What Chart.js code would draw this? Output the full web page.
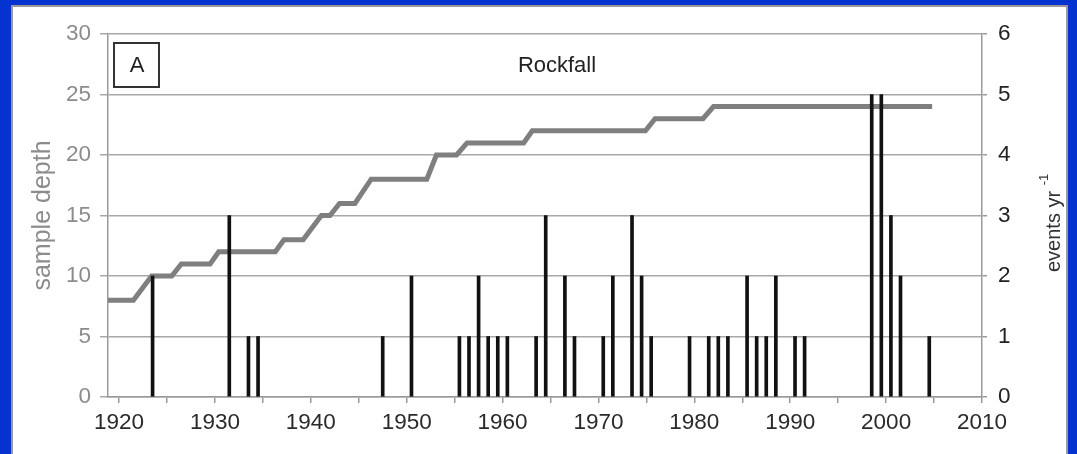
<!DOCTYPE html>
<html>
<head>
<meta charset="utf-8">
<script src="https://cdn.jsdelivr.net/npm/chart.js@4"></script>
<style>
  html, body { margin: 0; padding: 0; background: #0433d0; overflow: hidden; }
  #frame {
    position: absolute; left: 11px; top: 5px; width: 1053px; height: 470px;
    background: #fff; border: 2px solid #9a9a9a;
  }
  #Chart { position: absolute; left: 0; top: 0; }
</style>
</head>
<body>
<div id="frame"></div>
<canvas id="Chart" width="1077" height="454"></canvas>
<script>
// rockfall events per year
const eventYears = [1923, 1931, 1933, 1934, 1947, 1950, 1955, 1956, 1957, 1958, 1959, 1960,
  1963, 1964, 1966, 1967, 1970, 1971, 1973, 1974, 1975, 1979, 1981, 1982, 1983,
  1985, 1986, 1987, 1988, 1990, 1991, 1998, 1999, 2000, 2001, 2004];
const eventCounts = [2, 3, 1, 1, 1, 2, 1, 1, 2, 1, 1, 1,
  1, 3, 2, 1, 1, 2, 3, 2, 1, 1, 1, 1, 1,
  2, 1, 1, 2, 1, 1, 5, 5, 3, 2, 1];

// sample depth, corners of the grey step line
const depthYears = [1918.5, 1921.5, 1923.4, 1925.5, 1926.5, 1929.5, 1930.4, 1936.3, 1937.2,
  1939.2, 1941.1, 1942.0, 1943.0, 1944.6, 1946.3, 1952.1, 1953.1, 1955.2, 1956.3,
  1962.2, 1963.1, 1974.9, 1975.9, 1980.9, 1982.0, 2004.8];
const depthValues = [8, 8, 10, 10, 11, 11, 12, 12, 13,
  13, 15, 15, 16, 16, 18, 18, 20, 20, 21,
  21, 22, 22, 23, 23, 24, 24];

const xTicks = [1920, 1925, 1930, 1935, 1940, 1945, 1950, 1955, 1960, 1965,
  1970, 1975, 1980, 1985, 1990, 1995, 2000, 2005, 2010];

const axisGrey = "#9a9a9a";
const font = "'Liberation Sans', Arial, sans-serif";

// text inside the plot + right axis title (reads bottom to top)
const annotations = {
  id: "annotations",
  afterDraw(chart) {
    const ctx = chart.ctx;
    const a = chart.chartArea;
    ctx.save();
    // "A" box
    ctx.strokeStyle = "#333";
    ctx.lineWidth = 2;
    ctx.strokeRect(a.left + 6, a.top + 9, 45, 44);
    ctx.fillStyle = "#222";
    ctx.font = "22px " + font;
    ctx.textAlign = "center";
    ctx.textBaseline = "middle";
    ctx.fillText("A", a.left + 29, a.top + 32);
    ctx.fillText("Rockfall", 557, a.top + 32);

    // events yr^-1
    ctx.translate(1054, 272);
    ctx.rotate(-Math.PI / 2);
    ctx.textAlign = "left";
    ctx.font = "20px " + font;
    ctx.fillStyle = "#333";
    ctx.fillText("events yr", 0, 0);
    const w = ctx.measureText("events yr ").width;
    ctx.font = "13px " + font;
    ctx.fillText("-1", w, -10);
    ctx.restore();
  },
};

const ctx = document.getElementById("Chart").getContext("2d");
new Chart(ctx, {
  type: "bar",
  data: {
    datasets: [
      {
        type: "bar",
        label: "events",
        // bars sit in the middle of their year
        data: eventYears.map((y, i) => ({ x: y + 0.5, y: eventCounts[i] })),
        backgroundColor: "#111",
        barThickness: 3,
        grouped: false,
        yAxisID: "yEvents",
        order: 0,
      },
      {
        type: "line",
        label: "sample depth",
        data: depthYears.map((y, i) => ({ x: y, y: depthValues[i] })),
        borderColor: "#7f7f7f",
        borderWidth: 5,
        pointRadius: 0,
        tension: 0,
        yAxisID: "yDepth",
        order: 1,
      },
    ],
  },
  options: {
    responsive: false,
    animation: false,
    devicePixelRatio: 1,
    layout: { padding: { top: 34, left: 0, right: 0, bottom: 0 } },
    plugins: { legend: { display: false }, tooltip: { enabled: false } },
    scales: {
      x: {
        type: "linear",
        position: "bottom",
        offset: false,
        min: 1918.85,
        max: 2010,
        afterBuildTicks: (s) => { s.ticks = xTicks.map((v) => ({ value: v })); },
        afterFit: (s) => { s.height = 57; },
        grid: { offset: false, drawOnChartArea: false, tickLength: 6, color: axisGrey, lineWidth: 1.5 },
        border: { color: axisGrey, width: 1.5 },
        ticks: {
          autoSkip: false,
          maxRotation: 0,
          padding: 6,
          color: "#2a2a2a",
          font: { family: font, size: 22.5 },
          callback: (v) => (v % 10 === 0 ? String(v) : ""),
        },
      },
      yDepth: {
        position: "left",
        min: 0,
        max: 30,
        afterFit: (s) => { s.width = 108; },
        grid: { color: "#a8a8a8", lineWidth: 1.5, tickLength: 8 },
        border: { color: axisGrey, width: 1.5 },
        ticks: { stepSize: 5, padding: 9, color: "#8c8c8c", font: { family: font, size: 22.5 } },
        title: {
          display: true,
          text: "sample depth",
          color: "#8c8c8c",
          font: { family: font, size: 25 },
          padding: { top: 28, bottom: 0 },
        },
      },
      yEvents: {
        position: "right",
        min: 0,
        max: 6,
        afterFit: (s) => { s.width = 95; },
        grid: { drawOnChartArea: false, tickLength: 5, color: axisGrey, lineWidth: 1.5 },
        border: { color: axisGrey, width: 1.5 },
        ticks: { stepSize: 1, padding: 11, color: "#222", font: { family: font, size: 22.5 } },
      },
    },
  },
  plugins: [annotations],
});
</script>
</body>
</html>
